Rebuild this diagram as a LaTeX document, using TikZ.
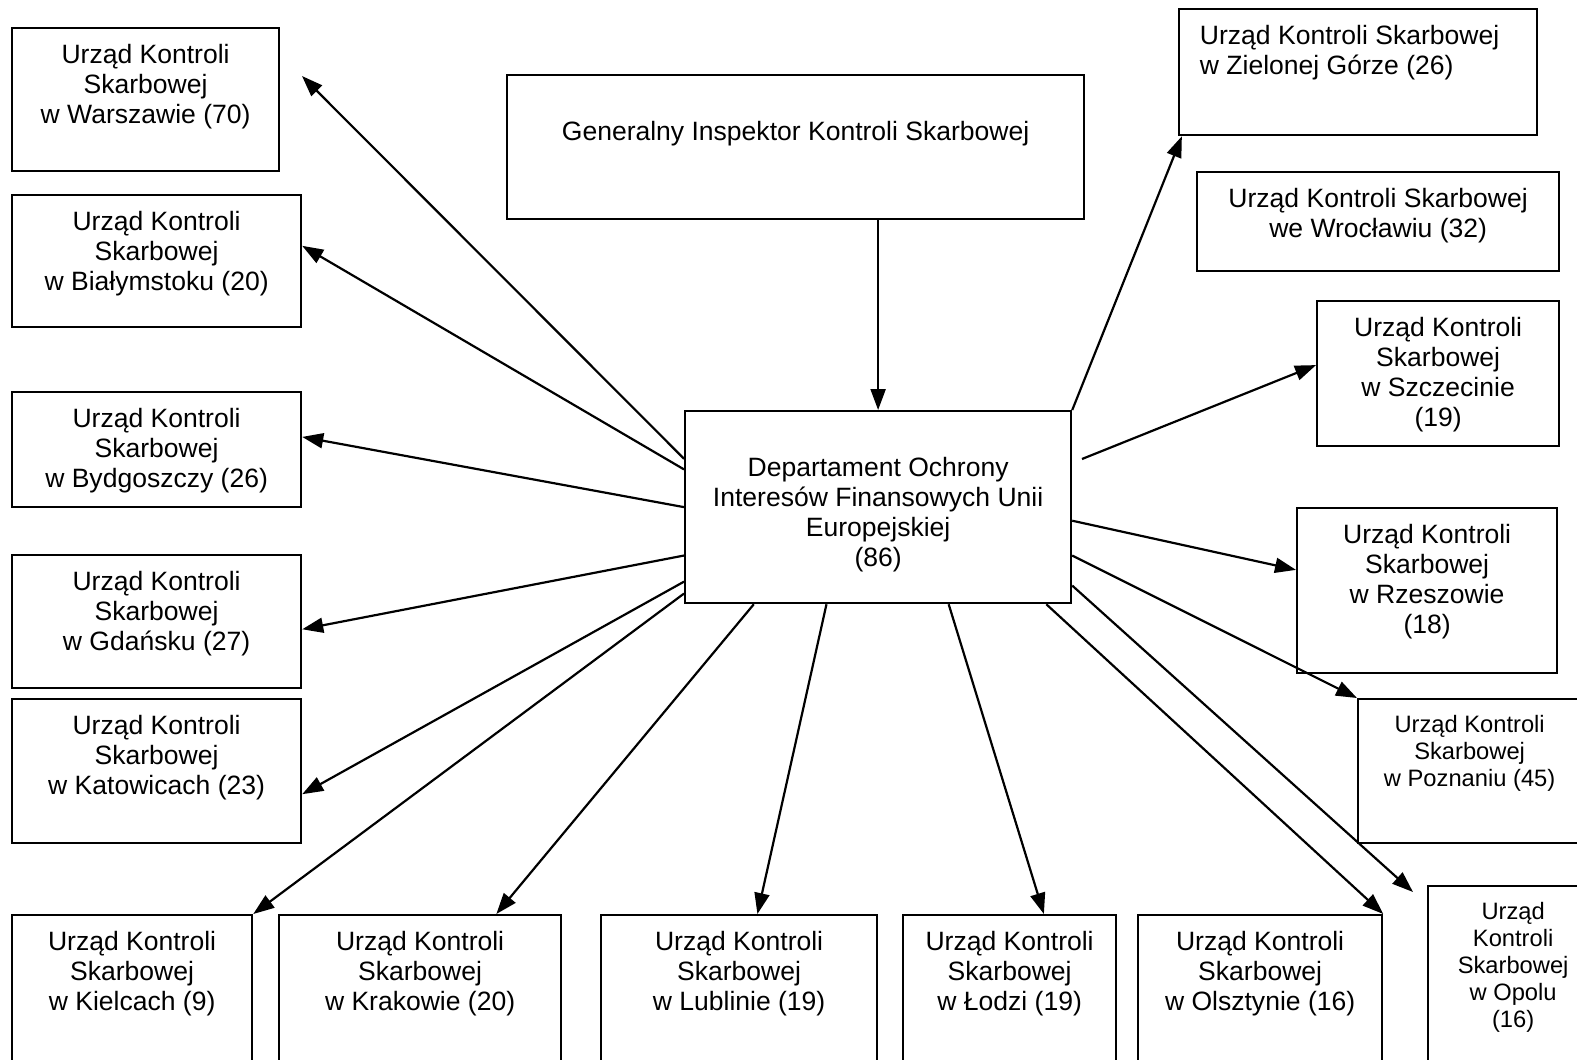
\documentclass[tikz,border=0pt]{standalone}
\usepackage{fontspec}
\setmainfont{Liberation Sans}
\usetikzlibrary{arrows.meta}
\tikzset{
  box/.style={draw, line width=1.3pt, inner sep=0pt, anchor=north west},
  txt/.style={font=\fontsize{15.1}{17.2}\selectfont, align=center, inner sep=0pt, anchor=north, yshift=-0.33cm},
  smalltxt/.style={txt, font=\fontsize{13.5}{15.4}\selectfont},
  arr/.style={-{Triangle[length=0.42cm,width=0.3cm]}, line width=1.25pt}
}
\begin{document}
\begin{tikzpicture}[x=0.02cm,y=-0.02cm]
  \useasboundingbox (0,0) rectangle (1577,1059);
  \clip (0,0) rectangle (1577,1059);
  % centre
  \node[box, minimum width=11.54cm, minimum height=2.88cm,
    label={[txt, yshift=-0.6cm]north:Generalny Inspektor Kontroli Skarbowej}] (gen) at (506,74) {};
  \node[box, minimum width=7.72cm, minimum height=3.84cm,
    label={[txt, yshift=-0.6cm]north:Departament Ochrony\\Interesów Finansowych Unii\\Europejskiej\\(86)}] (dep) at (684,410) {};
  % left column
  \node[box, minimum width=5.34cm, minimum height=2.86cm,
    label={[txt]north:Urząd Kontroli\\Skarbowej\\w Warszawie (70)}] (waw) at (11,27) {};
  \node[box, minimum width=5.78cm, minimum height=2.64cm,
    label={[txt]north:Urząd Kontroli\\Skarbowej\\w Białymstoku (20)}] (bia) at (11,194) {};
  \node[box, minimum width=5.78cm, minimum height=2.30cm,
    label={[txt]north:Urząd Kontroli\\Skarbowej\\w Bydgoszczy (26)}] (byd) at (11,391) {};
  \node[box, minimum width=5.78cm, minimum height=2.66cm,
    label={[txt]north:Urząd Kontroli\\Skarbowej\\w Gdańsku (27)}] (gda) at (11,554) {};
  \node[box, minimum width=5.78cm, minimum height=2.88cm,
    label={[txt]north:Urząd Kontroli\\Skarbowej\\w Katowicach (23)}] (kat) at (11,698) {};
  % bottom row
  \node[box, minimum width=4.80cm, minimum height=3.72cm,
    label={[txt]north:Urząd Kontroli\\Skarbowej\\w Kielcach (9)}] (kie) at (11,914) {};
  \node[box, minimum width=5.64cm, minimum height=3.72cm,
    label={[txt]north:Urząd Kontroli\\Skarbowej\\w Krakowie (20)}] (kra) at (278,914) {};
  \node[box, minimum width=5.52cm, minimum height=3.72cm,
    label={[txt]north:Urząd Kontroli\\Skarbowej\\w Lublinie (19)}] (lub) at (600,914) {};
  \node[box, minimum width=4.26cm, minimum height=3.72cm,
    label={[txt]north:Urząd Kontroli\\Skarbowej\\w Łodzi (19)}] (lod) at (902,914) {};
  \node[box, minimum width=4.88cm, minimum height=3.72cm,
    label={[txt]north:Urząd Kontroli\\Skarbowej\\w Olsztynie (16)}] (ols) at (1137,914) {};
  % right column
  \node[box, minimum width=7.16cm, minimum height=2.52cm,
    label={[txt, align=left, xshift=-0.17cm]north:Urząd Kontroli Skarbowej\\w Zielonej Górze (26)}] (zg) at (1178,8) {};
  \node[box, minimum width=7.24cm, minimum height=1.98cm,
    label={[txt]north:Urząd Kontroli Skarbowej\\we Wrocławiu (32)}] (wro) at (1196,171) {};
  \node[box, minimum width=4.84cm, minimum height=2.90cm,
    label={[txt]north:Urząd Kontroli\\Skarbowej\\w Szczecinie\\(19)}] (szc) at (1316,300) {};
  \node[box, minimum width=5.20cm, minimum height=3.30cm,
    label={[txt]north:Urząd Kontroli\\Skarbowej\\w Rzeszowie\\(18)}] (rze) at (1296,507) {};
  \node[box, minimum width=4.46cm, minimum height=2.88cm,
    label={[smalltxt]north:Urząd Kontroli\\Skarbowej\\w Poznaniu (45)}] (poz) at (1357,698) {};
  \node[box, minimum width=3.40cm, minimum height=4.30cm,
    label={[smalltxt]north:Urząd\\Kontroli\\Skarbowej\\w Opolu\\(16)}] (opo) at (1427,885) {};
  % loose arrow ends
  \coordinate (wawtip) at (302,76);
  \coordinate (opotip) at (1413,892);
  \coordinate (szctail) at (1082,459);
  \begin{scope}[arr]
    \draw (dep.north |- gen.south) to (dep.north);
    \draw (dep.166) to (wawtip);
    \draw (dep.169.7) to (bia.6.7);
    \draw (dep.west) to (byd.5.7);
    \draw (dep.194) to (gda.357.8);
    \draw (dep.201.2) to (kat.351.3);
    \draw (dep.204.3) to (kie.north east);
    \draw (dep.218) to (kra.51.1);
    \draw (dep.242.5) to (lub.79.6);
    \draw (dep.306.1) to (lod.70.2);
    \draw (dep.330) to (ols.north east);
    \draw (dep.338.8) to (opotip);
    \draw (dep.346) to (poz.north west);
    \draw (dep.356.1) to (rze.171);
    \draw (szctail) to (szc.176);
    \draw (dep.north east) to (zg.200.8);
  \end{scope}
\end{tikzpicture}
\end{document}
